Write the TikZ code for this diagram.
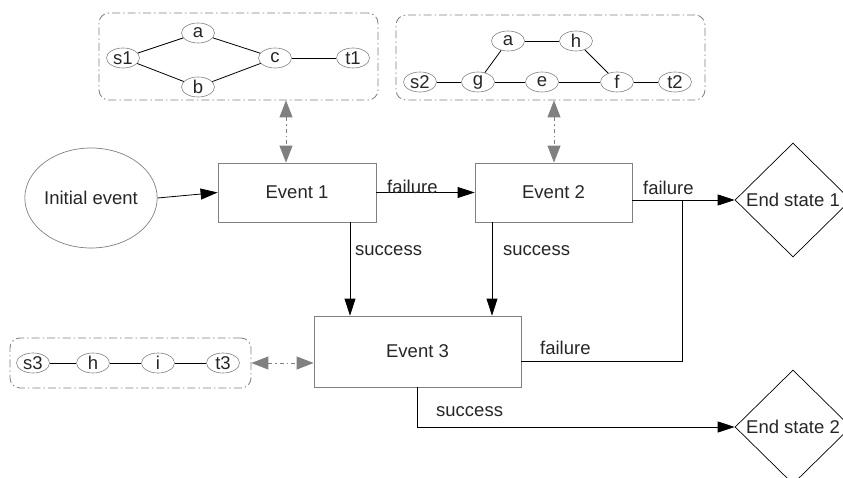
\documentclass[tikz,border=0pt]{standalone}
\usepackage{fontspec}
\setmainfont{Liberation Sans}
\usetikzlibrary{shapes.geometric,arrows.meta}
\definecolor{bordergray}{HTML}{808080}
\definecolor{txt}{HTML}{262626}
\begin{document}
\begin{tikzpicture}[x=1pt,y=-1pt,
  font=\fontsize{18.5}{20}\selectfont, text=txt,
  evbox/.style={draw=bordergray, line width=0.8pt, rectangle, inner sep=0pt},
  small/.style={draw=bordergray, line width=0.6pt, ellipse, minimum width=33pt, minimum height=20pt, inner sep=0pt},
  grp/.style={draw=bordergray, line width=0.8pt, rounded corners=10pt, dash pattern=on 8pt off 3pt on 1.5pt off 3pt, inner sep=0pt},
  link/.style={line width=0.8pt, black},
  flow/.style={line width=0.8pt, black, -{Triangle[length=17pt,width=11pt]}},
  gflow/.style={line width=0.9pt, bordergray, dash pattern=on 4pt off 3pt on 1.5pt off 3pt, {Triangle[length=17pt,width=13pt]}-{Triangle[length=17pt,width=13pt]}},
  dia/.style={draw=black, line width=0.7pt, diamond, minimum width=116pt, minimum height=114pt, inner sep=0pt},
  lbl/.style={inner sep=0pt, anchor=west}
]
\useasboundingbox (0,0) rectangle (843,478);

% groups
\node[grp, minimum width=279pt, minimum height=87pt] (g1) at (238.5,56.5) {};
\node[grp, minimum width=309pt, minimum height=85pt] (g2) at (550.5,57.5) {};
\node[grp, minimum width=241pt, minimum height=50pt] (g3) at (130.5,363) {};

% group 1 nodes
\node[small] (a1) at (198,33) {a};
\node[small] (s1) at (123,58) {s1};
\node[small] (c1) at (275,58) {c};
\node[small] (t1) at (353,58) {t1};
\node[small] (b1) at (198,87) {b};
\draw[link] (s1) -- (a1);
\draw[link] (a1) -- (c1);
\draw[link] (s1) -- (b1);
\draw[link] (b1) -- (c1);
\draw[link] (c1) -- (t1);

% group 2 nodes
\node[small] (a2) at (508,41) {a};
\node[small] (h2) at (576,41) {h};
\node[small] (s2) at (420,82) {s2};
\node[small] (g2n) at (478,82) {g};
\node[small] (e2) at (542,82) {e};
\node[small] (f2) at (617,82) {f};
\node[small] (t2) at (675,82) {t2};
\draw[link] (s2) -- (g2n);
\draw[link] (g2n) -- (e2);
\draw[link] (e2) -- (f2);
\draw[link] (f2) -- (t2);
\draw[link] (g2n) -- (a2);
\draw[link] (a2) -- (h2);
\draw[link] (h2) -- (f2);

% group 3 nodes
\node[small] (s3) at (33,363) {s3};
\node[small] (h3) at (93,363) {h};
\node[small] (i3) at (158,363) {i};
\node[small] (t3) at (223,363) {t3};
\draw[link] (s3) -- (h3);
\draw[link] (h3) -- (i3);
\draw[link] (i3) -- (t3);

% main nodes
\node[draw=bordergray, line width=0.7pt, ellipse, minimum width=112pt, minimum height=100pt, inner sep=0pt] (init) at (91,198) {Initial event};
\node[evbox, minimum width=158pt, minimum height=59pt] (ev1) at (297,192.5) {Event 1};
\node[evbox, minimum width=157pt, minimum height=59pt] (ev2) at (553.5,192.5) {Event 2};
\node[evbox, minimum width=207pt, minimum height=71pt] (ev3) at (417.5,351.5) {Event 3};
\node[dia] (es1) at (793,200) {};
\node[inner sep=0pt] (es1t) at (793,200) {End state 1};
\node[dia] (es2) at (793,427) {};
\node[inner sep=0pt] (es2t) at (793,427) {End state 2};

% flows
\draw[flow] (init.east) -- (ev1.west);
\draw[flow] (ev1.east) -- (ev2.west);
\node[lbl] (lf1) at (387,187) {failure};
\draw[flow] ([xshift=53pt]ev1.south) -- ([xshift=53pt]ev1.south |- ev3.north);
\node[lbl] (ls1) at (355,251) {success};
\draw[flow] ([xshift=-61.5pt]ev2.south) -- ([xshift=-61.5pt]ev2.south |- ev3.north);
\node[lbl] (ls2) at (503,251) {success};
\draw[flow] (ev2.east |- es1.west) -- (es1.west);
\node[lbl] (lf2) at (643,188) {failure};
\coordinate (j) at (682,200);
\draw[link] (j) |- ([yshift=-9.5pt]ev3.east);
\node[lbl] (lf3) at (540,348) {failure};
\draw[flow] (ev3.south) |- (es2.west);
\node[lbl] (ls3) at (436,412) {success};

% gray dashed arrows
\draw[gflow] ([xshift=47.5pt]g1.south) -- ([xshift=47.5pt]g1.south |- ev1.north);
\draw[gflow] ([xshift=3.5pt]g2.south) -- ([xshift=3.5pt]g2.south |- ev2.north);
\draw[gflow] (g3.east) -- (g3.east -| ev3.west);
\end{tikzpicture}
\end{document}
